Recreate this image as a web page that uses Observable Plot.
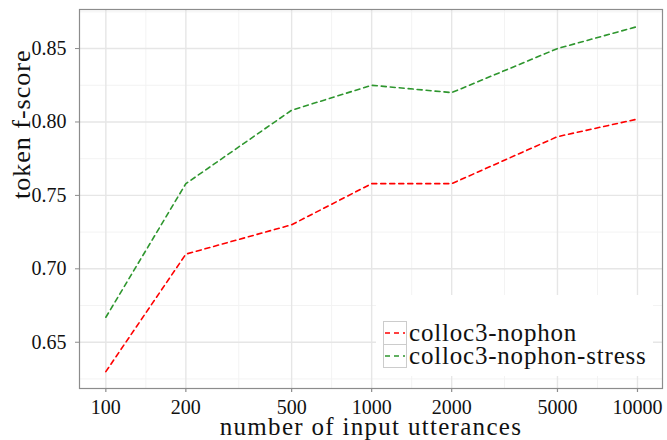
<!DOCTYPE html>
<html>
<head>
<meta charset="utf-8">
<script src="https://cdn.jsdelivr.net/npm/d3@7"></script>
<script src="https://cdn.jsdelivr.net/npm/@observablehq/plot@0.6"></script>
<style>
  html, body { margin: 0; padding: 0; background: #fff; }
  #chart { width: 667px; height: 440px; }
</style>
</head>
<body>
<div id="chart"></div>
<script>
// ---- data ----
const sizes = [100, 200, 500, 1000, 2000, 5000, 10000];
const nophon = [0.630, 0.710, 0.730, 0.758, 0.758, 0.790, 0.802];
const nophonStress = [0.667, 0.758, 0.808, 0.825, 0.820, 0.850, 0.865];
const seriesNames = ["colloc3-nophon", "colloc3-nophon-stress"];
const seriesColors = ["#ff0000", "#2e962e"];
const xTicks = [100, 200, 500, 1000, 2000, 5000, 10000];
const yTicks = [0.65, 0.70, 0.75, 0.80, 0.85];
const yMinor = [0.625, 0.675, 0.725, 0.775, 0.825, 0.875];
const xLabel = "number of input utterances";
const yLabel = "token f-score";

const rows = [];
sizes.forEach((s, i) => rows.push({size: s, score: nophon[i], series: seriesNames[0]}));
sizes.forEach((s, i) => rows.push({size: s, score: nophonStress[i], series: seriesNames[1]}));

// minor x grid: midpoints in log space between major breaks
const xMinor = [];
for (let i = 0; i < xTicks.length - 1; i++) xMinor.push(Math.sqrt(xTicks[i] * xTicks[i + 1]));

const font = "'Liberation Serif', 'DejaVu Serif', serif";
const W = 667, H = 440, mL = 79, mR = 5, mT = 9, mB = 52;
const innerW = W - mL - mR, innerH = H - mT - mB;

const plot = Plot.plot({
  width: W,
  height: H,
  marginLeft: mL,
  marginRight: mR,
  marginTop: mT,
  marginBottom: mB,
  style: {fontFamily: font, background: "#fff", overflow: "visible"},
  x: {type: "log", domain: [79.6, 12420], axis: null},
  y: {domain: [0.6185, 0.8766]},
  color: {domain: seriesNames, range: seriesColors},
  marks: [
    Plot.ruleX(xMinor, {x: d => d, stroke: "#f3f3f3", strokeWidth: 1}),
    Plot.ruleY(yMinor, {y: d => d, stroke: "#f3f3f3", strokeWidth: 1}),
    Plot.ruleX(xTicks, {x: d => d, stroke: "#e6e6e6", strokeWidth: 1.4}),
    Plot.ruleY(yTicks, {y: d => d, stroke: "#e6e6e6", strokeWidth: 1.4}),
    Plot.line(rows, {x: "size", y: "score", z: "series", stroke: "series",
      strokeWidth: 1.6, strokeDasharray: "5,4"}),
    Plot.frame({stroke: "#8c8c8c", strokeWidth: 1.2}),
    // x axis ticks and labels
    Plot.ruleX(xTicks, {x: d => d, stroke: "#8c8c8c", strokeWidth: 1.2,
      insetTop: innerH, insetBottom: -4}),
    Plot.text(xTicks, {x: d => d, text: d => String(d), frameAnchor: "bottom",
      dy: 19, fontSize: 20, fill: "#111", lineAnchor: "middle"}),
    Plot.axisY(yTicks, {tickSize: 4, stroke: "#8c8c8c", tickPadding: 9, fontSize: 20,
      fill: "#111", tickFormat: d => d.toFixed(2), label: null}),
    Plot.text([xLabel], {frameAnchor: "bottom", dy: 46, fontSize: 25, fill: "#111",
      text: d => d, lineAnchor: "bottom"}),
    Plot.text([yLabel], {frameAnchor: "left", dx: -58, rotate: -90, fontSize: 26,
      fill: "#111", text: d => d, lineAnchor: "middle"})
  ]
});

const svg = d3.select(plot);
svg.selectAll("text").filter(function () { return this.textContent === xLabel; })
  .style("letter-spacing", "1.3px");
svg.selectAll("text").filter(function () { return this.textContent === yLabel; })
  .style("letter-spacing", "1px");

// legend drawn into the same svg
const lg = svg.append("g").attr("font-family", font).attr("text-anchor", "start");
lg.append("rect").attr("x", 376).attr("y", 295).attr("width", 277).attr("height", 81).attr("fill", "#fff");
seriesNames.forEach((name, i) => {
  const y0 = 321.5 + i * 23;
  lg.append("rect").attr("x", 383.5).attr("y", y0).attr("width", 23).attr("height", 23)
    .attr("fill", "#fff").attr("stroke", "#cccccc").attr("stroke-width", 1);
  lg.append("line").attr("x1", 385).attr("x2", 405).attr("y1", y0 + 11.5).attr("y2", y0 + 11.5)
    .attr("stroke", seriesColors[i]).attr("stroke-width", 1.6).attr("stroke-dasharray", "5,4");
  lg.append("text").attr("x", 409).attr("y", y0 + 19.5).attr("font-size", 25)
    .attr("fill", "#111").style("letter-spacing", "0.8px").text(name);
});

document.getElementById("chart").appendChild(plot);
</script>
</body>
</html>
